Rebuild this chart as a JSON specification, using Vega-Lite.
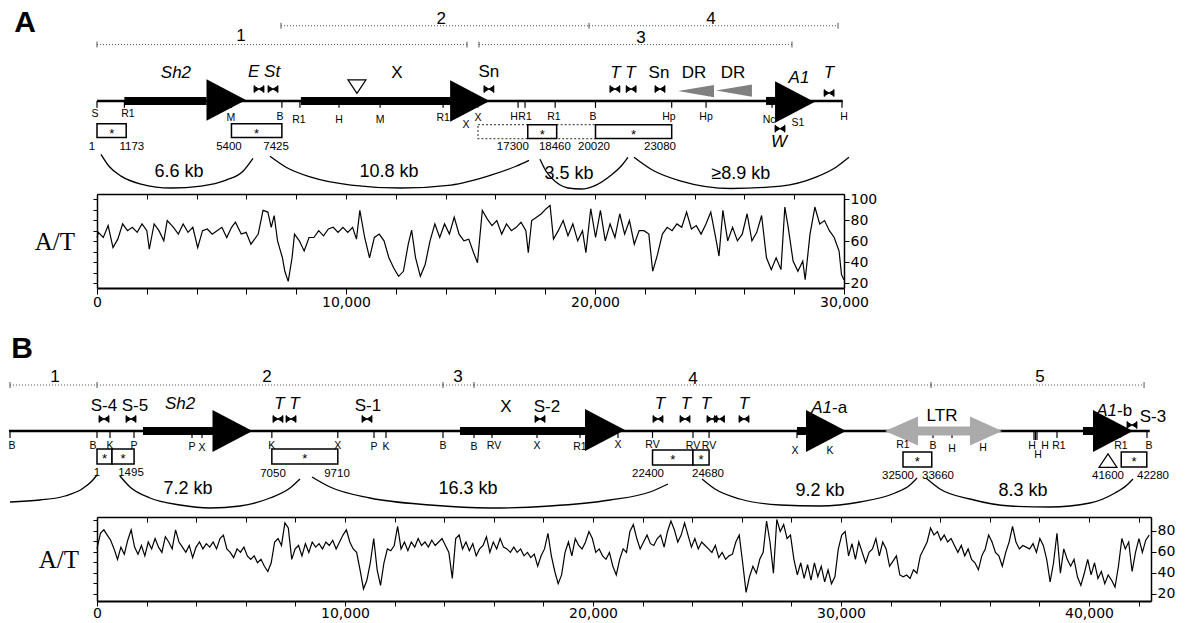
{
"$schema": "https://vega.github.io/schema/vega-lite/v6.json",
"background": "white",
"padding": {"left": 7, "top": 0, "right": 6, "bottom": 0},
"config": {
  "view": {"stroke": null},
  "concat": {"spacing": 0},
  "text": {"font": "Liberation Sans"},
  "axis": {"grid": false, "tickColor": "black", "domainColor": "black", "labelColor": "black", "titleColor": "black", "labelFont": "DejaVu Sans", "labelFontSize": 14, "labelFlush": false, "labelOverlap": false, "labelPadding": 1}
},
"datasets": {
  "rA": [
    {"x":0,"x2":29950,"y":101,"k":"thin"},
    {"x":1100,"x2":4400,"y":101,"k":"thick"},
    {"x":8190,"x2":14250,"y":101,"k":"thick"},
    {"x":26870,"x2":27300,"y":101,"k":"thick"},
    {"x":0,"x2":14860,"y":44,"k":"range"},
    {"x":7390,"x2":19760,"y":25,"k":"range"},
    {"x":15340,"x2":27910,"y":44,"k":"range"},
    {"x":19760,"x2":29760,"y":25,"k":"range"}
  ],
  "vA": [
    {"x":0,"y":101,"y2":108,"k":"site"},{"x":1100,"y":101,"y2":108,"k":"site"},{"x":5400,"y":101,"y2":108,"k":"site"},{"x":7425,"y":101,"y2":108,"k":"site"},{"x":8150,"y":101,"y2":108,"k":"site"},{"x":9720,"y":101,"y2":108,"k":"site"},{"x":11370,"y":101,"y2":108,"k":"site"},{"x":13900,"y":101,"y2":108,"k":"site"},{"x":14820,"y":101,"y2":108,"k":"site"},{"x":15300,"y":101,"y2":108,"k":"site"},{"x":16910,"y":101,"y2":108,"k":"site"},{"x":17190,"y":101,"y2":108,"k":"site"},{"x":18400,"y":101,"y2":108,"k":"site"},{"x":20020,"y":101,"y2":108,"k":"site"},{"x":23080,"y":101,"y2":108,"k":"site"},{"x":24460,"y":101,"y2":108,"k":"site"},{"x":27110,"y":101,"y2":108,"k":"site"},{"x":27990,"y":101,"y2":108,"k":"site"},{"x":29920,"y":101,"y2":108,"k":"site"},
    {"x":0,"y":41,"y2":47,"k":"end"},{"x":14860,"y":41,"y2":47,"k":"end"},{"x":7390,"y":22,"y2":28,"k":"end"},{"x":19760,"y":22,"y2":28,"k":"end"},{"x":15340,"y":41,"y2":47,"k":"end"},{"x":27910,"y":41,"y2":47,"k":"end"},{"x":29760,"y":22,"y2":28,"k":"end"}
  ],
  "gA": [{"x":5190,"y":100},{"x":14975,"y":101},{"x":28025,"y":102}],
  "wA": [{"x":24055,"y":91},{"x":25580,"y":90.5}],
  "bA": [
    {"x":15300,"x2":17300,"y":125,"y2":139,"k":"dash"},{"x":18460,"x2":20020,"y":125,"y2":139,"k":"dash"},
    {"x":0,"x2":1173,"y":124,"y2":138,"k":"solid"},{"x":5400,"x2":7425,"y":124,"y2":138,"k":"solid"},
    {"x":17300,"x2":18460,"y":125,"y2":139,"k":"solid"},{"x":20020,"x2":23080,"y":125,"y2":139,"k":"solid"}
  ],
  "qA": [{"x":6506,"y":89},{"x":7068,"y":89},{"x":15740,"y":89},{"x":20800,"y":89},{"x":21450,"y":89},{"x":22610,"y":89},{"x":29400,"y":93},{"x":27430,"y":129}],
  "oA": [{"x":10440,"y":86}],
  "cA": [
    {"id":"a1","x":161,"y":155},{"id":"a1","x":482,"y":167},{"id":"a1","x":964,"y":177},{"id":"a1","x":1767,"y":185},{"id":"a1","x":2972,"y":189},{"id":"a1","x":4177,"y":187},{"id":"a1","x":5181,"y":181},{"id":"a1","x":5863,"y":172},{"id":"a1","x":6265,"y":159},
    {"id":"a2","x":6948,"y":157},{"id":"a2","x":7590,"y":168},{"id":"a2","x":8594,"y":178},{"id":"a2","x":10200,"y":186},{"id":"a2","x":12209,"y":189},{"id":"a2","x":14217,"y":186},{"id":"a2","x":15823,"y":176},{"id":"a2","x":16827,"y":167},{"id":"a2","x":17349,"y":161},
    {"id":"a3","x":17791,"y":160},{"id":"a3","x":18032,"y":172},{"id":"a3","x":18434,"y":183},{"id":"a3","x":18916,"y":189},{"id":"a3","x":19438,"y":190},{"id":"a3","x":20040,"y":186},{"id":"a3","x":20643,"y":176},{"id":"a3","x":21044,"y":167},{"id":"a3","x":21325,"y":158},
    {"id":"a4","x":21566,"y":158},{"id":"a4","x":22249,"y":170},{"id":"a4","x":23454,"y":182},{"id":"a4","x":25462,"y":189.5},{"id":"a4","x":27470,"y":187},{"id":"a4","x":28876,"y":178},{"id":"a4","x":29679,"y":168},{"id":"a4","x":30201,"y":158}
  ],
  "tA": [
    {"x":-2890,"y":22,"t":"A","k":"panel"},
    {"x":5780,"y":35,"t":"1","k":"range"},{"x":13820,"y":18,"t":"2","k":"range"},{"x":21850,"y":37,"t":"3","k":"range"},{"x":24660,"y":18,"t":"4","k":"range"},
    {"x":12050,"y":73,"t":"X","k":"gene"},{"x":15740,"y":72,"t":"Sn","k":"gene"},{"x":22570,"y":73,"t":"Sn","k":"gene"},{"x":23980,"y":73,"t":"DR","k":"gene"},{"x":25540,"y":73,"t":"DR","k":"gene"},
    {"x":3170,"y":73,"t":"Sh2","k":"genei"},{"x":6710,"y":72,"t":"E St","k":"genei"},{"x":21120,"y":73,"t":"T T","k":"genei"},{"x":28190,"y":78,"t":"A1","k":"genei"},{"x":29400,"y":73,"t":"T","k":"genei"},{"x":27390,"y":143,"t":"W","k":"genei"},
    {"x":-80,"y":114,"t":"S","k":"site"},{"x":1240,"y":114,"t":"R1","k":"site"},{"x":5380,"y":118,"t":"M","k":"site"},{"x":7350,"y":117,"t":"B","k":"site"},{"x":8110,"y":120,"t":"R1","k":"site"},{"x":9720,"y":120,"t":"H","k":"site"},{"x":11370,"y":120,"t":"M","k":"site"},{"x":13900,"y":118,"t":"R1","k":"site"},{"x":14820,"y":125,"t":"X","k":"site"},{"x":15300,"y":118,"t":"X","k":"site"},{"x":16750,"y":117,"t":"H","k":"site"},{"x":17190,"y":117,"t":"R1","k":"site"},{"x":18350,"y":117,"t":"R1","k":"site"},{"x":19920,"y":117,"t":"B","k":"site"},{"x":22970,"y":117,"t":"Hp","k":"site"},{"x":24460,"y":117,"t":"Hp","k":"site"},{"x":26990,"y":120,"t":"Nc","k":"site"},{"x":28150,"y":123,"t":"S1","k":"site"},{"x":30000,"y":117,"t":"H","k":"site"},
    {"x":-200,"y":148,"t":"1","k":"num"},{"x":1400,"y":148,"t":"1173","k":"num"},{"x":5300,"y":148,"t":"5400","k":"num"},{"x":7190,"y":148,"t":"7425","k":"num"},{"x":16700,"y":148,"t":"17300","k":"num"},{"x":18390,"y":148,"t":"18460","k":"num"},{"x":19960,"y":148,"t":"20020","k":"num"},{"x":22610,"y":148,"t":"23080","k":"num"},
    {"x":3293,"y":173,"t":"6.6 kb","k":"kb"},{"x":11727,"y":173,"t":"10.8 kb","k":"kb"},{"x":18960,"y":175,"t":"3.5 kb","k":"kb"},{"x":25860,"y":175,"t":"≥8.9 kb","k":"kb"},
    {"x":590,"y":131,"t":"*","k":"star"},{"x":6410,"y":131,"t":"*","k":"star"},{"x":17880,"y":132,"t":"*","k":"star"},{"x":21550,"y":132,"t":"*","k":"star"}
  ],
  "rB": [
    {"x":-3550,"x2":42450,"y":432,"k":"thin"},
    {"x":1855,"x2":4677,"y":432,"k":"thick"},{"x":14637,"x2":19677,"y":432,"k":"thick"},{"x":28226,"x2":28629,"y":432,"k":"thick"},{"x":39758,"x2":40161,"y":432,"k":"thick"},
    {"x":-3508,"x2":0,"y":386,"k":"range"},{"x":0,"x2":13952,"y":386,"k":"range"},{"x":13952,"x2":15202,"y":386,"k":"range"},{"x":15202,"x2":33630,"y":386,"k":"range"},{"x":33630,"x2":42220,"y":386,"k":"range"}
  ],
  "vB": [
    {"x":-3508,"y":432,"y2":439,"k":"site"},{"x":0,"y":432,"y2":439,"k":"site"},{"x":524,"y":432,"y2":439,"k":"site"},{"x":1492,"y":432,"y2":439,"k":"site"},{"x":3831,"y":432,"y2":439,"k":"site"},{"x":4234,"y":432,"y2":439,"k":"site"},{"x":7050,"y":432,"y2":439,"k":"site"},{"x":9710,"y":432,"y2":439,"k":"site"},{"x":11169,"y":432,"y2":439,"k":"site"},{"x":11653,"y":432,"y2":439,"k":"site"},{"x":13952,"y":432,"y2":439,"k":"site"},{"x":15202,"y":432,"y2":439,"k":"site"},{"x":15927,"y":432,"y2":439,"k":"site"},{"x":17742,"y":432,"y2":439,"k":"site"},{"x":19476,"y":432,"y2":439,"k":"site"},{"x":21008,"y":432,"y2":439,"k":"site"},{"x":22400,"y":432,"y2":439,"k":"site"},{"x":24032,"y":432,"y2":439,"k":"site"},{"x":24680,"y":432,"y2":439,"k":"site"},{"x":28226,"y":432,"y2":439,"k":"site"},{"x":29556,"y":432,"y2":439,"k":"site"},{"x":32903,"y":432,"y2":439,"k":"site"},{"x":33710,"y":432,"y2":439,"k":"site"},{"x":34476,"y":432,"y2":439,"k":"site"},{"x":35726,"y":432,"y2":439,"k":"site"},{"x":37782,"y":432,"y2":441,"k":"site"},{"x":37842,"y":432,"y2":441,"k":"site"},{"x":37903,"y":432,"y2":441,"k":"site"},{"x":38710,"y":432,"y2":439,"k":"site"},{"x":41250,"y":432,"y2":439,"k":"site"},{"x":42339,"y":432,"y2":439,"k":"site"},
    {"x":-3508,"y":383,"y2":389,"k":"end"},{"x":0,"y":383,"y2":389,"k":"end"},{"x":13952,"y":383,"y2":389,"k":"end"},{"x":15202,"y":383,"y2":389,"k":"end"},{"x":33630,"y":383,"y2":389,"k":"end"},{"x":42220,"y":383,"y2":389,"k":"end"}
  ],
  "gB": [{"x":5463,"y":432},{"x":20483,"y":431},{"x":29395,"y":432},{"x":40967,"y":432}],
  "lB": [{"x":34133,"y":432}],
  "bB": [
    {"x":0,"x2":605,"y":450,"y2":465,"k":"solid"},{"x":605,"x2":1495,"y":450,"y2":465,"k":"solid"},{"x":7050,"x2":9710,"y":450,"y2":465,"k":"solid"},{"x":22400,"x2":24030,"y":451,"y2":466,"k":"solid"},{"x":24030,"x2":24680,"y":451,"y2":466,"k":"solid"},{"x":32500,"x2":33660,"y":453,"y2":468,"k":"solid"},{"x":41300,"x2":42330,"y":453,"y2":468,"k":"solid"}
  ],
  "qB": [{"x":282,"y":420},{"x":1371,"y":420},{"x":7298,"y":420},{"x":7823,"y":420},{"x":10887,"y":420},{"x":17863,"y":420},{"x":22621,"y":420},{"x":23710,"y":420},{"x":24798,"y":420},{"x":25100,"y":420},{"x":26089,"y":420},{"x":41734,"y":426}],
  "oB": [{"x":40766,"y":462}],
  "cB": [
    {"id":"b0","x":-3508,"y":503},{"id":"b0","x":-2298,"y":501},{"id":"b0","x":-1290,"y":497},{"id":"b0","x":-605,"y":490},{"id":"b0","x":-202,"y":482},{"id":"b0","x":0,"y":476},
    {"id":"b1","x":927,"y":477},{"id":"b1","x":1331,"y":488},{"id":"b1","x":2137,"y":499},{"id":"b1","x":3347,"y":506},{"id":"b1","x":4556,"y":509},{"id":"b1","x":5766,"y":507},{"id":"b1","x":6976,"y":499},{"id":"b1","x":7782,"y":489},{"id":"b1","x":8185,"y":480},
    {"id":"b2","x":8669,"y":478},{"id":"b2","x":9395,"y":488},{"id":"b2","x":11008,"y":499},{"id":"b2","x":13427,"y":506},{"id":"b2","x":15847,"y":509},{"id":"b2","x":18266,"y":507},{"id":"b2","x":20685,"y":501},{"id":"b2","x":22298,"y":493},{"id":"b2","x":23024,"y":485},
    {"id":"b3","x":24395,"y":480},{"id":"b3","x":24919,"y":490},{"id":"b3","x":25927,"y":500},{"id":"b3","x":27540,"y":506},{"id":"b3","x":29153,"y":507},{"id":"b3","x":30766,"y":503},{"id":"b3","x":32177,"y":494},{"id":"b3","x":32782,"y":486},{"id":"b3","x":33065,"y":479},
    {"id":"b4","x":33427,"y":479},{"id":"b4","x":33992,"y":490},{"id":"b4","x":35202,"y":500},{"id":"b4","x":36815,"y":507},{"id":"b4","x":38427,"y":508},{"id":"b4","x":40040,"y":504},{"id":"b4","x":41048,"y":494},{"id":"b4","x":41532,"y":486},{"id":"b4","x":41774,"y":480}
  ],
  "tB": [
    {"x":-3024,"y":350,"t":"B","k":"panel"},
    {"x":-1694,"y":378,"t":"1","k":"range"},{"x":6855,"y":378,"t":"2","k":"range"},{"x":14556,"y":378,"t":"3","k":"range"},{"x":24032,"y":380,"t":"4","k":"range"},{"x":38024,"y":378,"t":"5","k":"range"},
    {"x":282,"y":407,"t":"S-4","k":"gene"},{"x":1532,"y":407,"t":"S-5","k":"gene"},{"x":10927,"y":407,"t":"S-1","k":"gene"},{"x":16492,"y":408,"t":"X","k":"gene"},{"x":18145,"y":408,"t":"S-2","k":"gene"},{"x":34073,"y":417,"t":"LTR","k":"gene"},{"x":42581,"y":418,"t":"S-3","k":"gene"},
    {"x":3347,"y":405,"t":"Sh2","k":"genei"},{"x":7661,"y":405,"t":"T T","k":"genei"},{"x":22702,"y":405,"t":"T","k":"genei"},{"x":23750,"y":405,"t":"T","k":"genei"},{"x":24556,"y":405,"t":"T","k":"genei"},{"x":26089,"y":405,"t":"T","k":"genei"},
    {"x":29637,"y":409,"t":"A1","k":"geneiR"},{"x":41129,"y":412,"t":"A1","k":"geneiR"},
    {"x":29637,"y":409,"t":"-a","k":"geneL"},{"x":41129,"y":412,"t":"-b","k":"geneL"},
    {"x":-3427,"y":447,"t":"B","k":"site"},{"x":-160,"y":447,"t":"B","k":"site"},{"x":524,"y":447,"t":"K","k":"site"},{"x":1492,"y":447,"t":"P","k":"site"},{"x":3831,"y":448,"t":"P","k":"site"},{"x":4234,"y":449,"t":"X","k":"site"},{"x":7050,"y":447,"t":"K","k":"site"},{"x":9710,"y":447,"t":"X","k":"site"},{"x":11169,"y":448,"t":"P","k":"site"},{"x":11653,"y":448,"t":"K","k":"site"},{"x":13952,"y":447,"t":"B","k":"site"},{"x":15202,"y":448,"t":"B","k":"site"},{"x":16008,"y":447,"t":"RV","k":"site"},{"x":17742,"y":447,"t":"X","k":"site"},{"x":19476,"y":448,"t":"R1","k":"site"},{"x":21008,"y":446,"t":"X","k":"site"},{"x":22400,"y":446,"t":"RV","k":"site"},{"x":24032,"y":447,"t":"RV","k":"site"},{"x":24680,"y":447,"t":"RV","k":"site"},{"x":28145,"y":452,"t":"X","k":"site"},{"x":29556,"y":452,"t":"K","k":"site"},{"x":32500,"y":446,"t":"R1","k":"site"},{"x":33710,"y":447,"t":"B","k":"site"},{"x":34476,"y":450,"t":"H","k":"site"},{"x":35726,"y":449,"t":"H","k":"site"},{"x":37702,"y":447,"t":"H","k":"site"},{"x":37944,"y":456,"t":"H","k":"site"},{"x":38226,"y":447,"t":"H","k":"site"},{"x":38790,"y":447,"t":"R1","k":"site"},{"x":41290,"y":447,"t":"R1","k":"site"},{"x":42420,"y":447,"t":"B","k":"site"},
    {"x":0,"y":474,"t":"1","k":"num"},{"x":1371,"y":474,"t":"1495","k":"num"},{"x":7097,"y":475,"t":"7050","k":"num"},{"x":9677,"y":475,"t":"9710","k":"num"},{"x":22218,"y":475,"t":"22400","k":"num"},{"x":24637,"y":475,"t":"24680","k":"num"},{"x":32298,"y":477,"t":"32500","k":"num"},{"x":33911,"y":477,"t":"33660","k":"num"},{"x":40766,"y":477,"t":"41600","k":"num"},{"x":42581,"y":477,"t":"42280","k":"num"},
    {"x":3669,"y":490,"t":"7.2 kb","k":"kb"},{"x":14960,"y":490,"t":"16.3 kb","k":"kb"},{"x":29153,"y":492,"t":"9.2 kb","k":"kb"},{"x":37339,"y":492,"t":"8.3 kb","k":"kb"},
    {"x":300,"y":457,"t":"*","k":"star"},{"x":1050,"y":457,"t":"*","k":"star"},{"x":8380,"y":457,"t":"*","k":"star"},{"x":23215,"y":458,"t":"*","k":"star"},{"x":24355,"y":458,"t":"*","k":"star"},{"x":33080,"y":460,"t":"*","k":"star"},{"x":41815,"y":460,"t":"*","k":"star"}
  ],
  "atA": [{"x":0,"v":63.6},{"x":58,"v":68.5},{"x":253,"v":63.6},{"x":447,"v":74.9},{"x":642,"v":54.0},{"x":836,"v":62.0},{"x":1030,"v":76.5},{"x":1225,"v":70.1},{"x":1419,"v":73.3},{"x":1614,"v":68.5},{"x":1808,"v":76.5},{"x":2002,"v":70.1},{"x":2100,"v":52.4},{"x":2294,"v":76.5},{"x":2488,"v":70.1},{"x":2683,"v":60.4},{"x":2819,"v":79.7},{"x":3072,"v":73.3},{"x":3266,"v":66.8},{"x":3460,"v":76.5},{"x":3655,"v":68.5},{"x":3849,"v":73.3},{"x":4044,"v":54.0},{"x":4238,"v":70.1},{"x":4432,"v":71.7},{"x":4627,"v":66.8},{"x":4821,"v":70.1},{"x":5016,"v":73.3},{"x":5210,"v":63.6},{"x":5404,"v":73.3},{"x":5560,"v":78.1},{"x":5793,"v":66.8},{"x":5988,"v":68.5},{"x":6182,"v":57.2},{"x":6376,"v":63.6},{"x":6474,"v":66.8},{"x":6668,"v":89.4},{"x":6862,"v":87.8},{"x":6998,"v":73.3},{"x":7115,"v":84.5},{"x":7251,"v":60.4},{"x":7446,"v":44.3},{"x":7543,"v":31.4},{"x":7679,"v":21.8},{"x":7834,"v":44.3},{"x":7932,"v":66.8},{"x":8126,"v":60.4},{"x":8320,"v":50.7},{"x":8515,"v":63.6},{"x":8709,"v":63.6},{"x":8904,"v":70.1},{"x":9098,"v":65.2},{"x":9292,"v":71.7},{"x":9487,"v":73.3},{"x":9681,"v":68.5},{"x":9876,"v":73.3},{"x":10070,"v":68.5},{"x":10264,"v":73.3},{"x":10420,"v":62.0},{"x":10556,"v":89.4},{"x":10750,"v":63.6},{"x":10945,"v":44.3},{"x":11139,"v":63.6},{"x":11334,"v":66.8},{"x":11528,"v":60.4},{"x":11722,"v":44.3},{"x":11917,"v":34.6},{"x":12111,"v":26.6},{"x":12306,"v":31.4},{"x":12500,"v":57.2},{"x":12636,"v":70.7},{"x":12792,"v":44.3},{"x":12986,"v":26.6},{"x":13180,"v":37.9},{"x":13375,"v":60.4},{"x":13569,"v":76.5},{"x":13764,"v":63.6},{"x":13958,"v":76.5},{"x":14152,"v":66.8},{"x":14347,"v":82.9},{"x":14541,"v":66.8},{"x":14736,"v":60.4},{"x":14930,"v":62.0},{"x":15124,"v":49.1},{"x":15280,"v":39.5},{"x":15474,"v":89.4},{"x":15669,"v":81.3},{"x":15863,"v":74.9},{"x":16057,"v":79.7},{"x":16252,"v":66.8},{"x":16446,"v":76.5},{"x":16641,"v":70.1},{"x":16835,"v":73.3},{"x":17029,"v":78.1},{"x":17224,"v":70.1},{"x":17321,"v":49.1},{"x":17457,"v":79.7},{"x":17652,"v":82.9},{"x":17846,"v":86.2},{"x":18040,"v":91.0},{"x":18196,"v":94.2},{"x":18332,"v":62.0},{"x":18526,"v":70.1},{"x":18721,"v":79.7},{"x":18915,"v":65.2},{"x":19110,"v":76.5},{"x":19304,"v":60.4},{"x":19498,"v":70.1},{"x":19634,"v":49.1},{"x":19829,"v":91.0},{"x":20023,"v":63.6},{"x":20218,"v":89.4},{"x":20412,"v":60.4},{"x":20606,"v":76.5},{"x":20801,"v":63.6},{"x":20995,"v":86.2},{"x":21190,"v":66.8},{"x":21384,"v":79.7},{"x":21578,"v":57.2},{"x":21773,"v":70.1},{"x":21967,"v":70.1},{"x":22162,"v":66.8},{"x":22317,"v":31.4},{"x":22512,"v":47.5},{"x":22706,"v":66.8},{"x":22900,"v":73.3},{"x":23095,"v":70.1},{"x":23289,"v":76.5},{"x":23484,"v":73.3},{"x":23678,"v":87.8},{"x":23872,"v":71.7},{"x":24067,"v":74.9},{"x":24261,"v":66.8},{"x":24456,"v":76.5},{"x":24650,"v":87.8},{"x":24844,"v":63.6},{"x":24980,"v":45.9},{"x":25136,"v":89.4},{"x":25330,"v":60.4},{"x":25525,"v":73.3},{"x":25719,"v":60.4},{"x":25914,"v":66.8},{"x":26108,"v":86.2},{"x":26302,"v":60.4},{"x":26497,"v":68.5},{"x":26691,"v":84.5},{"x":26886,"v":44.3},{"x":27080,"v":33.0},{"x":27274,"v":44.3},{"x":27469,"v":33.0},{"x":27624,"v":92.6},{"x":27760,"v":73.3},{"x":27955,"v":41.1},{"x":28149,"v":31.4},{"x":28344,"v":41.1},{"x":28441,"v":23.4},{"x":28635,"v":66.8},{"x":28830,"v":92.6},{"x":29024,"v":76.5},{"x":29218,"v":79.7},{"x":29413,"v":70.1},{"x":29607,"v":63.6},{"x":29802,"v":50.7},{"x":29899,"v":28.2},{"x":29996,"v":23.4}],
  "atB": [{"x":0,"v":62.9},{"x":138,"v":77.8},{"x":276,"v":81.1},{"x":413,"v":76.1},{"x":551,"v":71.2},{"x":689,"v":62.9},{"x":827,"v":53.0},{"x":964,"v":64.6},{"x":1102,"v":57.9},{"x":1240,"v":71.2},{"x":1378,"v":81.1},{"x":1515,"v":64.6},{"x":1653,"v":57.9},{"x":1791,"v":66.2},{"x":1929,"v":56.3},{"x":2066,"v":69.5},{"x":2204,"v":62.9},{"x":2342,"v":72.8},{"x":2480,"v":64.6},{"x":2617,"v":59.6},{"x":2755,"v":74.5},{"x":2893,"v":69.5},{"x":3031,"v":62.9},{"x":3168,"v":81.1},{"x":3306,"v":69.5},{"x":3444,"v":64.6},{"x":3582,"v":59.6},{"x":3719,"v":66.2},{"x":3857,"v":54.6},{"x":3995,"v":64.6},{"x":4133,"v":69.5},{"x":4270,"v":62.9},{"x":4408,"v":67.9},{"x":4546,"v":64.6},{"x":4684,"v":69.5},{"x":4821,"v":62.9},{"x":4959,"v":72.8},{"x":5097,"v":76.1},{"x":5235,"v":62.9},{"x":5372,"v":59.6},{"x":5510,"v":54.6},{"x":5648,"v":62.9},{"x":5786,"v":59.6},{"x":5923,"v":64.6},{"x":6061,"v":56.3},{"x":6199,"v":53.0},{"x":6337,"v":56.3},{"x":6474,"v":49.7},{"x":6612,"v":53.0},{"x":6750,"v":46.4},{"x":6888,"v":41.4},{"x":7025,"v":49.7},{"x":7163,"v":69.5},{"x":7301,"v":72.8},{"x":7439,"v":66.2},{"x":7576,"v":87.7},{"x":7714,"v":82.8},{"x":7852,"v":53.0},{"x":7990,"v":62.9},{"x":8127,"v":66.2},{"x":8265,"v":56.3},{"x":8403,"v":67.9},{"x":8541,"v":59.6},{"x":8678,"v":69.5},{"x":8816,"v":64.6},{"x":8954,"v":67.9},{"x":9092,"v":62.9},{"x":9229,"v":69.5},{"x":9367,"v":66.2},{"x":9505,"v":71.2},{"x":9643,"v":62.9},{"x":9780,"v":69.5},{"x":9918,"v":76.1},{"x":10056,"v":81.1},{"x":10194,"v":69.5},{"x":10331,"v":62.9},{"x":10469,"v":59.6},{"x":10607,"v":43.0},{"x":10745,"v":24.8},{"x":10882,"v":33.1},{"x":11020,"v":49.7},{"x":11158,"v":72.8},{"x":11296,"v":43.0},{"x":11433,"v":28.1},{"x":11571,"v":49.7},{"x":11709,"v":62.9},{"x":11847,"v":61.2},{"x":11984,"v":66.2},{"x":12122,"v":84.4},{"x":12260,"v":62.9},{"x":12398,"v":69.5},{"x":12535,"v":61.2},{"x":12673,"v":69.5},{"x":12811,"v":64.6},{"x":12949,"v":72.8},{"x":13086,"v":66.2},{"x":13224,"v":69.5},{"x":13362,"v":64.6},{"x":13500,"v":71.2},{"x":13637,"v":66.2},{"x":13775,"v":69.5},{"x":13913,"v":72.8},{"x":14051,"v":66.2},{"x":14188,"v":59.6},{"x":14326,"v":34.8},{"x":14464,"v":72.8},{"x":14602,"v":76.1},{"x":14739,"v":62.9},{"x":14877,"v":69.5},{"x":15015,"v":61.2},{"x":15153,"v":67.9},{"x":15290,"v":56.3},{"x":15428,"v":62.9},{"x":15566,"v":66.2},{"x":15704,"v":74.5},{"x":15841,"v":59.6},{"x":15979,"v":69.5},{"x":16117,"v":62.9},{"x":16255,"v":72.8},{"x":16392,"v":64.6},{"x":16530,"v":62.9},{"x":16668,"v":59.6},{"x":16806,"v":64.6},{"x":16943,"v":59.6},{"x":17081,"v":62.9},{"x":17219,"v":56.3},{"x":17357,"v":59.6},{"x":17494,"v":54.6},{"x":17632,"v":57.9},{"x":17770,"v":46.4},{"x":17908,"v":56.3},{"x":18045,"v":62.9},{"x":18183,"v":77.8},{"x":18321,"v":56.3},{"x":18459,"v":41.4},{"x":18596,"v":29.8},{"x":18734,"v":38.1},{"x":18872,"v":59.6},{"x":19010,"v":69.5},{"x":19147,"v":56.3},{"x":19285,"v":72.8},{"x":19423,"v":66.2},{"x":19561,"v":62.9},{"x":19698,"v":69.5},{"x":19836,"v":79.5},{"x":19974,"v":72.8},{"x":20112,"v":59.6},{"x":20249,"v":62.9},{"x":20387,"v":56.3},{"x":20525,"v":53.0},{"x":20663,"v":59.6},{"x":20800,"v":46.4},{"x":20938,"v":38.1},{"x":21076,"v":53.0},{"x":21214,"v":62.9},{"x":21351,"v":59.6},{"x":21489,"v":79.5},{"x":21627,"v":86.1},{"x":21765,"v":72.8},{"x":21902,"v":62.9},{"x":22040,"v":69.5},{"x":22178,"v":76.1},{"x":22316,"v":67.9},{"x":22453,"v":66.2},{"x":22591,"v":72.8},{"x":22729,"v":76.1},{"x":22867,"v":64.6},{"x":23004,"v":79.5},{"x":23142,"v":89.4},{"x":23280,"v":81.1},{"x":23418,"v":69.5},{"x":23555,"v":76.1},{"x":23693,"v":87.7},{"x":23831,"v":76.1},{"x":23969,"v":64.6},{"x":24106,"v":72.8},{"x":24244,"v":62.9},{"x":24382,"v":69.5},{"x":24520,"v":66.2},{"x":24657,"v":62.9},{"x":24795,"v":59.6},{"x":24933,"v":66.2},{"x":25071,"v":54.6},{"x":25208,"v":59.6},{"x":25346,"v":53.0},{"x":25484,"v":56.3},{"x":25622,"v":57.9},{"x":25759,"v":69.5},{"x":25897,"v":76.1},{"x":26035,"v":49.7},{"x":26173,"v":21.5},{"x":26310,"v":36.4},{"x":26448,"v":46.4},{"x":26586,"v":39.7},{"x":26724,"v":53.0},{"x":26861,"v":59.6},{"x":26999,"v":89.4},{"x":27137,"v":69.5},{"x":27275,"v":39.7},{"x":27412,"v":91.0},{"x":27550,"v":79.5},{"x":27688,"v":86.1},{"x":27826,"v":72.8},{"x":27963,"v":76.1},{"x":28101,"v":53.0},{"x":28239,"v":38.1},{"x":28377,"v":49.7},{"x":28514,"v":34.8},{"x":28652,"v":48.0},{"x":28790,"v":33.1},{"x":28928,"v":49.7},{"x":29065,"v":36.4},{"x":29203,"v":46.4},{"x":29341,"v":31.5},{"x":29479,"v":43.0},{"x":29616,"v":29.8},{"x":29754,"v":36.4},{"x":29892,"v":62.9},{"x":30030,"v":76.1},{"x":30167,"v":79.5},{"x":30305,"v":56.3},{"x":30443,"v":67.9},{"x":30581,"v":53.0},{"x":30718,"v":69.5},{"x":30856,"v":59.6},{"x":30994,"v":49.7},{"x":31132,"v":59.6},{"x":31269,"v":62.9},{"x":31407,"v":72.8},{"x":31545,"v":56.3},{"x":31683,"v":69.5},{"x":31820,"v":62.9},{"x":31958,"v":46.4},{"x":32096,"v":51.3},{"x":32234,"v":56.3},{"x":32371,"v":38.1},{"x":32509,"v":36.4},{"x":32647,"v":38.1},{"x":32785,"v":34.8},{"x":32922,"v":43.0},{"x":33060,"v":39.7},{"x":33198,"v":56.3},{"x":33336,"v":62.9},{"x":33473,"v":69.5},{"x":33611,"v":82.8},{"x":33749,"v":76.1},{"x":33887,"v":79.5},{"x":34024,"v":71.2},{"x":34162,"v":76.1},{"x":34300,"v":69.5},{"x":34438,"v":72.8},{"x":34575,"v":66.2},{"x":34713,"v":59.6},{"x":34851,"v":66.2},{"x":34989,"v":56.3},{"x":35126,"v":62.9},{"x":35264,"v":53.0},{"x":35402,"v":49.7},{"x":35540,"v":43.0},{"x":35677,"v":56.3},{"x":35815,"v":62.9},{"x":35953,"v":76.1},{"x":36091,"v":69.5},{"x":36228,"v":59.6},{"x":36366,"v":56.3},{"x":36504,"v":46.4},{"x":36642,"v":59.6},{"x":36779,"v":69.5},{"x":36917,"v":84.4},{"x":37055,"v":69.5},{"x":37193,"v":62.9},{"x":37330,"v":66.2},{"x":37468,"v":64.6},{"x":37606,"v":62.9},{"x":37744,"v":67.9},{"x":37881,"v":59.6},{"x":38019,"v":72.8},{"x":38157,"v":66.2},{"x":38295,"v":53.0},{"x":38432,"v":31.5},{"x":38570,"v":49.7},{"x":38708,"v":77.8},{"x":38846,"v":39.7},{"x":38983,"v":62.9},{"x":39121,"v":53.0},{"x":39259,"v":46.4},{"x":39397,"v":53.0},{"x":39534,"v":36.4},{"x":39672,"v":28.1},{"x":39810,"v":39.7},{"x":39948,"v":53.0},{"x":40085,"v":38.1},{"x":40223,"v":49.7},{"x":40361,"v":34.8},{"x":40499,"v":41.4},{"x":40636,"v":29.8},{"x":40774,"v":38.1},{"x":40912,"v":33.1},{"x":41050,"v":26.5},{"x":41187,"v":46.4},{"x":41325,"v":72.8},{"x":41463,"v":62.9},{"x":41601,"v":69.5},{"x":41738,"v":41.4},{"x":41876,"v":59.6},{"x":42014,"v":72.8},{"x":42152,"v":59.6},{"x":42289,"v":71.2},{"x":42427,"v":76.1}]
},
"vconcat": [
  {
    "width": 747, "height": 188,
    "encoding": {
      "x": {"field": "x", "type": "quantitative", "scale": {"domain": [0, 30000], "nice": false, "zero": false}, "axis": null},
      "y": {"field": "y", "type": "quantitative", "scale": {"domain": [0, 190], "reverse": true, "nice": false, "zero": false}, "axis": null}
    },
    "layer": [
      {"data": {"name": "rA"}, "transform": [{"filter": "datum.k == 'range'"}], "mark": {"type": "rule", "color": "#555", "strokeWidth": 1, "strokeDash": [1, 2]}, "encoding": {"x2": {"field": "x2"}}},
      {"data": {"name": "vA"}, "transform": [{"filter": "datum.k == 'end'"}], "mark": {"type": "rule", "color": "#555", "strokeWidth": 1}, "encoding": {"y2": {"field": "y2"}}},
      {"data": {"name": "rA"}, "transform": [{"filter": "datum.k == 'thin'"}], "mark": {"type": "rule", "color": "black", "strokeWidth": 2.5}, "encoding": {"x2": {"field": "x2"}}},
      {"data": {"name": "vA"}, "transform": [{"filter": "datum.k == 'site'"}], "mark": {"type": "rule", "color": "black", "strokeWidth": 1.2}, "encoding": {"y2": {"field": "y2"}}},
      {"data": {"name": "rA"}, "transform": [{"filter": "datum.k == 'thick'"}], "mark": {"type": "rule", "color": "black", "strokeWidth": 8, "strokeCap": "butt"}, "encoding": {"x2": {"field": "x2"}}},
      {"data": {"name": "bA"}, "transform": [{"filter": "datum.k == 'dash'"}], "mark": {"type": "rect", "fill": "white", "stroke": "#555", "strokeWidth": 1.2, "strokeDash": [2, 2]}, "encoding": {"x2": {"field": "x2"}, "y2": {"field": "y2"}}},
      {"data": {"name": "bA"}, "transform": [{"filter": "datum.k == 'solid'"}], "mark": {"type": "rect", "fill": "white", "stroke": "black", "strokeWidth": 1.5}, "encoding": {"x2": {"field": "x2"}, "y2": {"field": "y2"}}},
      {"data": {"name": "gA"}, "mark": {"type": "point", "shape": "M-1,-1.05L1,0L-1,1.05Z", "filled": true, "color": "black", "size": 1560, "opacity": 1}},
      {"data": {"name": "wA"}, "mark": {"type": "point", "shape": "M-1,0L1,-0.34L1,0.34Z", "filled": true, "color": "#808080", "size": 1296, "opacity": 1}},
      {"data": {"name": "cA"}, "mark": {"type": "line", "color": "black", "strokeWidth": 1.3, "interpolate": "monotone"}, "encoding": {"detail": {"field": "id", "type": "nominal"}}},
      {"data": {"name": "qA"}, "mark": {"type": "point", "shape": "M-1,-0.8L-1,0.8M1,-0.8L1,0.8M-1,-0.6L0,0L-1,0.6ZM1,-0.6L0,0L1,0.6Z", "filled": true, "fill": "black", "stroke": "black", "strokeWidth": 1, "size": 90, "opacity": 1}},
      {"data": {"name": "oA"}, "mark": {"type": "point", "shape": "M-1,-0.7L1,-0.7L0,0.8Z", "filled": false, "stroke": "black", "strokeWidth": 1.2, "size": 324, "opacity": 1}},
      {"data": {"name": "tA"}, "transform": [{"filter": "datum.k == 'panel'"}], "mark": {"type": "text", "fontSize": 30, "fontWeight": "bold", "align": "center", "baseline": "middle", "color": "black"}, "encoding": {"text": {"field": "t", "type": "nominal"}}},
      {"data": {"name": "tA"}, "transform": [{"filter": "datum.k == 'range'"}], "mark": {"type": "text", "fontSize": 17, "align": "center", "baseline": "middle", "color": "black"}, "encoding": {"text": {"field": "t", "type": "nominal"}}},
      {"data": {"name": "tA"}, "transform": [{"filter": "datum.k == 'gene'"}], "mark": {"type": "text", "fontSize": 17, "align": "center", "baseline": "middle", "color": "black"}, "encoding": {"text": {"field": "t", "type": "nominal"}}},
      {"data": {"name": "tA"}, "transform": [{"filter": "datum.k == 'genei'"}], "mark": {"type": "text", "fontSize": 17, "fontStyle": "italic", "align": "center", "baseline": "middle", "color": "black"}, "encoding": {"text": {"field": "t", "type": "nominal"}}},
      {"data": {"name": "tA"}, "transform": [{"filter": "datum.k == 'site'"}], "mark": {"type": "text", "fontSize": 10.5, "align": "center", "baseline": "middle", "color": "black"}, "encoding": {"text": {"field": "t", "type": "nominal"}}},
      {"data": {"name": "tA"}, "transform": [{"filter": "datum.k == 'num'"}], "mark": {"type": "text", "fontSize": 11.5, "align": "center", "baseline": "middle", "color": "black"}, "encoding": {"text": {"field": "t", "type": "nominal"}}},
      {"data": {"name": "tA"}, "transform": [{"filter": "datum.k == 'kb'"}], "mark": {"type": "text", "fontSize": 18, "align": "center", "baseline": "middle", "color": "black"}, "encoding": {"text": {"field": "t", "type": "nominal"}}},
      {"data": {"name": "tA"}, "transform": [{"filter": "datum.k == 'star'"}], "mark": {"type": "text", "fontSize": 13, "align": "center", "baseline": "middle", "dy": 3, "color": "black"}, "encoding": {"text": {"field": "t", "type": "nominal"}}},
      {"data": {"values": [{"x": -3550, "y": 0}, {"x": -3550, "y": 190}]}, "mark": {"type": "point", "opacity": 0, "size": 1}}
    ]
  },
  {
    "width": 747, "height": 94,
    "layer": [
      {
        "data": {"name": "atA"},
        "mark": {"type": "line", "color": "black", "strokeWidth": 1.2},
        "encoding": {
          "x": {"field": "x", "type": "quantitative", "scale": {"domain": [0, 30000], "nice": false, "zero": false},
            "axis": {"orient": "bottom", "values": [0,2000,4000,6000,8000,10000,12000,14000,16000,18000,20000,22000,24000,26000,28000,30000], "labelExpr": "datum.value % 10000 === 0 ? format(datum.value, ',') : ''", "title": null, "tickSize": 6, "domainWidth": 2}},
          "y": {"field": "v", "type": "quantitative", "scale": {"domain": [15.5, 105], "nice": false, "zero": false},
            "axis": {"orient": "right", "values": [20, 40, 60, 80, 100], "title": null, "tickSize": 5, "domainWidth": 1.5}}
        }
      },
      {
        "data": {"values": [{"x": -3550, "v": 60}]},
        "mark": {"type": "point", "opacity": 0, "size": 1},
        "encoding": {
          "x": {"field": "x", "type": "quantitative", "scale": {"domain": [0, 30000], "nice": false, "zero": false},
            "axis": {"orient": "top", "values": [0,2000,4000,6000,8000,10000,12000,14000,16000,18000,20000,22000,24000,26000,28000,30000], "labels": false, "title": null, "tickSize": -5, "domainWidth": 1.5}},
          "y": {"field": "v", "type": "quantitative", "scale": {"domain": [15.5, 105], "nice": false, "zero": false},
            "axis": {"orient": "left", "values": [20, 30, 40, 50, 60, 70, 80, 90, 100], "labels": false, "tickSize": 4, "domainWidth": 1.5, "title": "A/T", "titleAngle": 0, "titleAlign": "right", "titleBaseline": "middle", "titleFont": "Liberation Serif", "titleFontSize": 25, "titleFontWeight": "normal", "titlePadding": 18}}
        }
      }
    ],
    "resolve": {"axis": {"x": "independent", "y": "independent"}}
  },
  {
    "width": 1054, "height": 205,
    "encoding": {
      "x": {"field": "x", "type": "quantitative", "scale": {"domain": [0, 42500], "nice": false, "zero": false}, "axis": null},
      "y": {"field": "y", "type": "quantitative", "scale": {"domain": [311, 516], "reverse": true, "nice": false, "zero": false}, "axis": null}
    },
    "layer": [
      {"data": {"name": "rB"}, "transform": [{"filter": "datum.k == 'range'"}], "mark": {"type": "rule", "color": "#555", "strokeWidth": 1, "strokeDash": [1, 2]}, "encoding": {"x2": {"field": "x2"}}},
      {"data": {"name": "vB"}, "transform": [{"filter": "datum.k == 'end'"}], "mark": {"type": "rule", "color": "#555", "strokeWidth": 1}, "encoding": {"y2": {"field": "y2"}}},
      {"data": {"name": "rB"}, "transform": [{"filter": "datum.k == 'thin'"}], "mark": {"type": "rule", "color": "black", "strokeWidth": 2.5}, "encoding": {"x2": {"field": "x2"}}},
      {"data": {"name": "vB"}, "transform": [{"filter": "datum.k == 'site'"}], "mark": {"type": "rule", "color": "black", "strokeWidth": 1.2}, "encoding": {"y2": {"field": "y2"}}},
      {"data": {"name": "rB"}, "transform": [{"filter": "datum.k == 'thick'"}], "mark": {"type": "rule", "color": "black", "strokeWidth": 8, "strokeCap": "butt"}, "encoding": {"x2": {"field": "x2"}}},
      {"data": {"name": "bB"}, "mark": {"type": "rect", "fill": "white", "stroke": "black", "strokeWidth": 1.5}, "encoding": {"x2": {"field": "x2"}, "y2": {"field": "y2"}}},
      {"data": {"name": "gB"}, "mark": {"type": "point", "shape": "M-1,-1.05L1,0L-1,1.05Z", "filled": true, "color": "black", "size": 1600, "opacity": 1}},
      {"data": {"name": "lB"}, "mark": {"type": "point", "shape": "M-1,0L-0.436,-0.248L-0.436,-0.077L0.453,-0.077L0.453,-0.248L1,0L0.453,0.248L0.453,0.077L-0.436,0.077L-0.436,0.248Z", "filled": true, "color": "#aaaaaa", "size": 13689, "opacity": 1}},
      {"data": {"name": "cB"}, "mark": {"type": "line", "color": "black", "strokeWidth": 1.3, "interpolate": "monotone"}, "encoding": {"detail": {"field": "id", "type": "nominal"}}},
      {"data": {"name": "qB"}, "mark": {"type": "point", "shape": "M-1,-0.8L-1,0.8M1,-0.8L1,0.8M-1,-0.6L0,0L-1,0.6ZM1,-0.6L0,0L1,0.6Z", "filled": true, "fill": "black", "stroke": "black", "strokeWidth": 1, "size": 90, "opacity": 1}},
      {"data": {"name": "oB"}, "mark": {"type": "point", "shape": "M-1,0.7L1,0.7L0,-0.8Z", "filled": false, "stroke": "black", "strokeWidth": 1.2, "size": 324, "opacity": 1}},
      {"data": {"name": "tB"}, "transform": [{"filter": "datum.k == 'panel'"}], "mark": {"type": "text", "fontSize": 30, "fontWeight": "bold", "align": "center", "baseline": "middle", "color": "black"}, "encoding": {"text": {"field": "t", "type": "nominal"}}},
      {"data": {"name": "tB"}, "transform": [{"filter": "datum.k == 'range'"}], "mark": {"type": "text", "fontSize": 17, "align": "center", "baseline": "middle", "color": "black"}, "encoding": {"text": {"field": "t", "type": "nominal"}}},
      {"data": {"name": "tB"}, "transform": [{"filter": "datum.k == 'gene'"}], "mark": {"type": "text", "fontSize": 17, "align": "center", "baseline": "middle", "color": "black"}, "encoding": {"text": {"field": "t", "type": "nominal"}}},
      {"data": {"name": "tB"}, "transform": [{"filter": "datum.k == 'genei'"}], "mark": {"type": "text", "fontSize": 17, "fontStyle": "italic", "align": "center", "baseline": "middle", "color": "black"}, "encoding": {"text": {"field": "t", "type": "nominal"}}},
      {"data": {"name": "tB"}, "transform": [{"filter": "datum.k == 'geneiR'"}], "mark": {"type": "text", "fontSize": 17, "fontStyle": "italic", "align": "right", "baseline": "middle", "color": "black"}, "encoding": {"text": {"field": "t", "type": "nominal"}}},
      {"data": {"name": "tB"}, "transform": [{"filter": "datum.k == 'geneL'"}], "mark": {"type": "text", "fontSize": 17, "align": "left", "baseline": "middle", "color": "black"}, "encoding": {"text": {"field": "t", "type": "nominal"}}},
      {"data": {"name": "tB"}, "transform": [{"filter": "datum.k == 'site'"}], "mark": {"type": "text", "fontSize": 10.5, "align": "center", "baseline": "middle", "color": "black"}, "encoding": {"text": {"field": "t", "type": "nominal"}}},
      {"data": {"name": "tB"}, "transform": [{"filter": "datum.k == 'num'"}], "mark": {"type": "text", "fontSize": 11.5, "align": "center", "baseline": "middle", "color": "black"}, "encoding": {"text": {"field": "t", "type": "nominal"}}},
      {"data": {"name": "tB"}, "transform": [{"filter": "datum.k == 'kb'"}], "mark": {"type": "text", "fontSize": 18, "align": "center", "baseline": "middle", "color": "black"}, "encoding": {"text": {"field": "t", "type": "nominal"}}},
      {"data": {"name": "tB"}, "transform": [{"filter": "datum.k == 'star'"}], "mark": {"type": "text", "fontSize": 13, "align": "center", "baseline": "middle", "dy": 3, "color": "black"}, "encoding": {"text": {"field": "t", "type": "nominal"}}},
      {"data": {"values": [{"x": -3550, "y": 311}, {"x": -3550, "y": 516}]}, "mark": {"type": "point", "opacity": 0, "size": 1}}
    ]
  },
  {
    "width": 1054, "height": 84,
    "layer": [
      {
        "data": {"name": "atB"},
        "mark": {"type": "line", "color": "black", "strokeWidth": 1.2},
        "encoding": {
          "x": {"field": "x", "type": "quantitative", "scale": {"domain": [0, 42500], "nice": false, "zero": false},
            "axis": {"orient": "bottom", "values": [0,2000,4000,6000,8000,10000,12000,14000,16000,18000,20000,22000,24000,26000,28000,30000,32000,34000,36000,38000,40000,42000], "labelExpr": "datum.value % 10000 === 0 ? format(datum.value, ',') : ''", "title": null, "tickSize": 5, "labelPadding": 0, "domainWidth": 2}},
          "y": {"field": "v", "type": "quantitative", "scale": {"domain": [13.3, 93.3], "nice": false, "zero": false},
            "axis": {"orient": "right", "values": [20, 40, 60, 80], "title": null, "tickSize": 5, "domainWidth": 1.5}}
        }
      },
      {
        "data": {"values": [{"x": -3550, "v": 60}]},
        "mark": {"type": "point", "opacity": 0, "size": 1},
        "encoding": {
          "x": {"field": "x", "type": "quantitative", "scale": {"domain": [0, 42500], "nice": false, "zero": false},
            "axis": {"orient": "top", "values": [0,2000,4000,6000,8000,10000,12000,14000,16000,18000,20000,22000,24000,26000,28000,30000,32000,34000,36000,38000,40000,42000], "labels": false, "title": null, "tickSize": -5, "domainWidth": 1.5}},
          "y": {"field": "v", "type": "quantitative", "scale": {"domain": [13.3, 93.3], "nice": false, "zero": false},
            "axis": {"orient": "left", "values": [20, 30, 40, 50, 60, 70, 80, 90], "labels": false, "tickSize": 4, "domainWidth": 1.5, "title": "A/T", "titleAngle": 0, "titleAlign": "right", "titleBaseline": "middle", "titleFont": "Liberation Serif", "titleFontSize": 25, "titleFontWeight": "normal", "titlePadding": 14}}
        }
      }
    ],
    "resolve": {"axis": {"x": "independent", "y": "independent"}}
  }
],
"resolve": {"scale": {"x": "independent", "y": "independent"}}
}
